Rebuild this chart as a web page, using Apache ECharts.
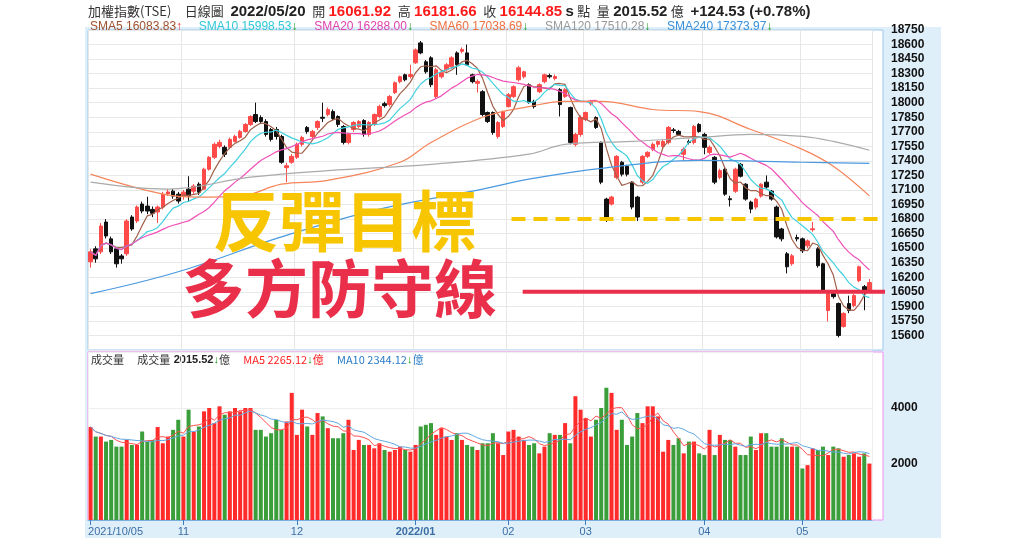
<!DOCTYPE html>
<html><head><meta charset="utf-8">
<script src="https://cdn.jsdelivr.net/npm/echarts@6/dist/echarts.min.js"></script>
<style>html,body{margin:0;padding:0;background:#fff}#c{width:1024px;height:538px}</style>
</head><body><div id="c"></div>
<script>
// OHLC [open, close, low, high]
const ohlc = [
[16360,16462,16300,16490],[16493,16390,16350,16520],[16462,16729,16440,16760],[16770,16626,16600,16800],[16596,16462,16440,16620],[16493,16339,16300,16510],[16420,16390,16340,16440],[16442,16780,16420,16800],[16821,16698,16680,16840],[16780,16924,16760,16940],[16955,16883,16860,16980],[16934,16883,16850,17030],[16900,16860,16820,16930],[16873,16924,16760,16940],[16924,17057,16900,17080],[17060,17080,17040,17110],[17088,17037,17010,17110],[17057,16986,16960,17080],
[17037,17078,17000,17100],[17109,17037,16980,17242],[17088,17140,17060,17160],[17160,17078,17050,17180],[17109,17314,17100,17330],[17314,17437,17300,17450],[17437,17571,17420,17590],[17550,17591,17530,17620],[17540,17468,17440,17560],[17540,17622,17520,17640],[17601,17652,17590,17670],[17642,17704,17630,17720],[17704,17776,17690,17790],[17776,17858,17760,17870],[17878,17806,17790,18001],[17847,17806,17780,17870],[17806,17673,17650,17830],[17724,17622,17600,17740],[17724,17652,17620,17750],[17652,17386,17370,17670],[17330,17350,17181,17380],[17386,17447,17370,17470],
[17437,17571,17420,17590],[17571,17642,17550,17660],[17745,17704,17680,17760],[17652,17704,17630,17720],[17745,17806,17720,17820],[17850,17840,17800,18001],[17878,17929,17860,17950],[17909,17837,17820,17930],[17858,17776,17750,17870],[17755,17591,17570,17770],[17591,17673,17570,17690],[17724,17796,17700,17810],[17755,17806,17740,17820],[17817,17673,17650,17830],[17673,17796,17650,17810],[17776,17878,17760,17890],[17858,17960,17840,17980],[17990,17970,17950,18010],[17981,18063,17960,18080],[18104,18206,18090,18220],[18217,18268,18200,18280],[18288,18237,18220,18300],[18270,18290,18250,18391],
[18412,18545,18400,18560],[18617,18514,18500,18637],[18422,18319,18300,18440],[18463,18186,18160,18480],[18063,18340,18040,18360],[18268,18309,18250,18330],[18340,18391,18320,18410],[18370,18463,18350,18480],[18514,18391,18288,18530],[18530,18550,18510,18570],[18514,18391,18380,18600],[18288,18217,18200,18300],[18200,18220,18104,18240],[18114,17878,17860,18130],[17899,17806,17790,17910],[17899,17693,17670,17910],[17652,17796,17630,17810],[17755,17909,17740,17920],
[17960,18083,17950,18100],[18063,18165,18050,18180],[18237,18360,18220,18380],[18268,18319,18250,18330],[18186,18001,17990,18200],[18011,17960,17940,18030],[18114,18186,18100,18200],[18217,18288,18200,18300],[18280,18268,18250,18300],[18250,18270,18230,18290],[18135,17981,17858,18150],[18063,18135,18050,18150],[17950,17591,17570,17960],[17571,17673,17550,17690],[17673,17850,17650,17870],
[17827,17899,17810,17910],[17990,18000,17970,18030],[17847,17745,17730,17860],[17591,17181,17160,17600],[17006,16821,16770,17020],[16955,17027,16940,17040],[17230,17447,17210,17460],[17386,17263,17240,17400],[17345,17263,17240,17360],[17181,16924,16900,17190],[17027,16821,16780,17040],[17181,17447,17160,17460],[17447,17488,17430,17500],[17519,17571,17500,17590],[17571,17600,17540,17610],[17550,17600,17530,17620],[17591,17745,17570,17760],[17720,17714,17690,17740],[17704,17673,17660,17720],[17468,17519,17400,17540],[17600,17591,17570,17620],[17591,17755,17570,17770],[17776,17704,17690,17790],
[17673,17540,17468,17690],[17488,17540,17470,17560],[17437,17181,17160,17450],[17230,17300,17210,17320],[17314,17057,17040,17330],[17010,17000,16930,17040],[17088,17314,17070,17330],[17365,17242,17230,17380],[17160,17006,16990,17170],[16975,16903,16860,16990],[16924,17006,16900,17020],[17037,17160,17020,17170],[17181,17130,17110,17250],[17088,17006,16990,17100],[16924,16616,16600,16940],[16698,16596,16570,16710],[16442,16308,16240,16460],[16339,16421,16320,16440],[16610,16596,16570,16640],
[16596,16473,16450,16610],[16524,16575,16500,16590],[16690,16700,16670,16770],[16493,16319,16300,16510],[16339,16062,16040,16350],[15857,16031,15745,16050],[16031,16000,15980,16050],[15929,15600,15580,15940],[15693,15827,15680,15840],[15929,15857,15830,16010],[15908,16011,15890,16030],[16165,16308,16150,16320],[16103,16062,15860,16120],[16062,16145,16040,16182]
];
const volumes = [
3320,2980,2980,2800,2860,2620,2620,2860,2680,2680,3160,2800,2860,3320,2740,2980,3220,3580,
2980,3940,3160,3340,3880,4000,3460,4060,3760,3880,4000,3880,4000,4000,3220,3220,2980,3100,3580,3220,3520,4540,
3040,3940,3340,3040,3820,3700,3280,2920,2920,3100,3580,2500,2860,2680,2680,2560,2740,2500,2440,2500,2620,2500,2440,
2680,3340,3400,3460,3040,3280,2980,2860,3100,2860,2680,2620,2500,2740,2740,3100,2740,2320,
3160,3220,2980,2860,2680,2740,2380,2620,3100,3040,3040,3460,2740,4420,3940,
3640,2980,3580,4000,4720,4540,3220,3580,2680,2980,3820,3460,4060,4060,3700,2440,2860,2680,2920,2380,2800,2800,2380,
2320,3220,2320,3040,2860,2860,2620,2320,2320,2980,2500,3100,3100,2620,2620,2920,2620,2620,2620,
1840,1960,2560,2500,2620,2320,2620,2560,2260,2320,2380,2260,2380,2015
];
// long moving averages as [index, value]
const sma60 = [[0,17263],[14,17057],[21,17027],[29,17037],[37,17160],[46,17200],[60,17386],[66,17590],[76,17850],[85,17960],[92,18014],[99,18014],[109,17930],[118,17909],[128,17724],[138,17519],[144,17345],[151,17039]];
const sma120 = [[0,17181],[15,17110],[31,17232],[46,17300],[66,17365],[85,17470],[92,17571],[105,17601],[118,17642],[128,17673],[138,17652],[144,17601],[151,17510]];
const sma240 = [[0,16031],[17,16257],[37,16616],[56,16903],[76,17109],[85,17212],[99,17324],[118,17406],[138,17386],[151,17374]];
const monthIdx = [0,18,40,63,81,96,119,138];
const monthLabels = ['2021/10/05','11','12','2022/01','02','03','04','05'];
const targetLevel = 16800, defenseLevel = 16050;
const lineStartIdx = [82, 83];

const cats = ohlc.map((d,i)=>String(i));
const closes = ohlc.map(d=>d[1]);
function ma(arr,n){return arr.map((v,i)=>{const s=arr.slice(Math.max(0,i-n+1),i+1);return +(s.reduce((a,b)=>a+b,0)/s.length).toFixed(2);});}
const up = ohlc.map(d=>d[1]>=d[0]);
const RED='#ff2a2a', GRN='#3a9e3a';
const chart = echarts.init(document.getElementById('c'));
const CJK='"Noto Sans CJK TC","Liberation Sans",sans-serif';
const monthSet = new Set(monthIdx);
const baseGraphic = [
    {type:'rect',shape:{x:85,y:27,width:856,height:511},style:{fill:'#dfeffa'},z:-10},
    {type:'rect',shape:{x:88,y:30,width:795,height:320},style:{fill:'#fff',stroke:'#9cc8ea',lineWidth:1},z:-9},
    {type:'rect',shape:{x:88,y:352,width:795,height:168},style:{fill:'#fff',stroke:'#f090f0',lineWidth:1},z:-9},
    {type:'text',left:88,top:4,style:{text:'{g|加權指數(TSE)}    {g|日線圖}  {b|2022/05/20}  {g|開} {r|16061.92}  {g|高} {r|16181.66}  {g|收} {r|16144.85} {b|s} {g|點}  {g|量} {b|2015.52} {g|億}  {b|+124.53 (+0.78%)}',
      rich:{g:{fontSize:13,fill:'#333',fontFamily:CJK},b:{fontSize:15,fontWeight:'bold',fill:'#222',fontFamily:'Liberation Sans'},r:{fontSize:15,fontWeight:'bold',fill:'#ff1a1a',fontFamily:'Liberation Sans'}}}},
    {type:'text',left:90,top:21,style:{text:'{a|SMA5 16083.83}{u|↑}     {c|SMA10 15998.53}{d|↓}     {p|SMA20 16288.00}{d|↓}     {o|SMA60 17038.69}{d|↓}     {s|SMA120 17510.28}{d|↓}     {l|SMA240 17373.97}{d|↓}',
      rich:{a:{fontSize:12,fill:'#a0502d'},c:{fontSize:12,fill:'#30c8d8'},p:{fontSize:12,fill:'#e040b0'},o:{fontSize:12,fill:'#f07040'},s:{fontSize:12,fill:'#999'},l:{fontSize:12,fill:'#3a90d8'},u:{fontSize:12,fontWeight:'bold',fill:'#ff2020'},d:{fontSize:12,fontWeight:'bold',fill:'#1a9a1a'}}}},
    {type:'text',left:91,top:354,style:{text:'{g|成交量}    {g|成交量} {b|2015.52}{d|↓}{g|億}    {r|MA5 2265.12}{d|↓}{r|億}    {l|MA10 2344.12}{d|↓}{l|億}',
      rich:{g:{fontSize:11,fill:'#333',fontFamily:CJK},b:{fontSize:11,fontWeight:'bold',fill:'#222'},r:{fontSize:11,fill:'#ff2020',fontFamily:CJK},l:{fontSize:11,fill:'#2a7cc8',fontFamily:CJK},d:{fontSize:11,fontWeight:'bold',fill:'#1a9a1a'}}}},
    {type:'text',left:213,top:188,z:50,style:{text:'反彈目標',fontSize:66,fontWeight:'bold',fill:'#f7c600',fontFamily:CJK}},
    {type:'text',left:182,top:257,z:50,style:{text:'多方防守線',fontSize:63,fontWeight:'bold',fill:'#ea2f4a',fontFamily:CJK}}
];
chart.setOption({
  animation:false,
  backgroundColor:'#fff',
  graphic:baseGraphic,
  grid:[{left:88,width:784,top:30,height:320},{left:88,width:784,top:352,height:168}],
  xAxis:[
    {type:'category',data:cats,gridIndex:0,boundaryGap:true,axisLine:{show:false},axisTick:{show:false},axisLabel:{show:false},
     splitLine:{show:true,interval:(i)=>monthSet.has(i),lineStyle:{color:'#e6e6e6'}}},
    {type:'category',data:cats,gridIndex:1,boundaryGap:true,axisLine:{show:true,lineStyle:{color:'#7ab0e0'}},
     axisTick:{show:true,alignWithLabel:true,interval:(i)=>monthSet.has(i),lineStyle:{color:'#3a7cc0'}},
     axisLabel:{interval:(i)=>monthSet.has(i),margin:6,
       formatter:(v)=>{const k=monthIdx.indexOf(+v);if(k<0)return '';if(k===0)return '{f|'+monthLabels[k]+'}';if(k===3)return '{b|'+monthLabels[k]+'}';return '{n|'+monthLabels[k]+'}';},
       rich:{f:{color:'#3a6ea5',fontSize:11,padding:[0,0,0,50]},b:{color:'#3a6ea5',fontSize:11,fontWeight:'bold'},n:{color:'#3a6ea5',fontSize:11}}},
     splitLine:{show:true,interval:(i)=>monthSet.has(i),lineStyle:{color:'#eeeeee'}}}
  ],
  yAxis:[
    {type:'value',gridIndex:0,position:'right',min:15450,max:18750,interval:150,offset:11,
     axisLine:{show:false},axisTick:{show:false},
     axisLabel:{color:'#111',fontSize:12,fontWeight:'bold',margin:8,formatter:v=>v<15600?'':v},
     splitLine:{lineStyle:{color:'#e8e8e8'}}},
    {type:'value',gridIndex:1,position:'right',min:0,max:6000,interval:2000,offset:11,
     axisLine:{show:false},axisTick:{show:false},
     axisLabel:{color:'#111',fontSize:12,fontWeight:'bold',margin:8,formatter:v=>(v===2000||v===4000)?v:''},
     splitLine:{lineStyle:{color:'#eeeeee'}}}
  ],
  series:[
    {type:'candlestick',xAxisIndex:0,yAxisIndex:0,data:ohlc,barWidth:4,
     itemStyle:{color:'#ff4a4a',color0:'#111',borderColor:'#ff4a4a',borderColor0:'#111',borderWidth:1}},
    {type:'line',data:ma(closes,5),xAxisIndex:0,yAxisIndex:0,symbol:'none',lineStyle:{color:'#a0604a',width:1.2}},
    {type:'line',data:ma(closes,10),xAxisIndex:0,yAxisIndex:0,symbol:'none',lineStyle:{color:'#40d0e0',width:1.2}},
    {type:'line',data:ma(closes,20),xAxisIndex:0,yAxisIndex:0,symbol:'none',lineStyle:{color:'#f050b8',width:1.2}},
    {type:'line',data:sma60,xAxisIndex:0,yAxisIndex:0,symbol:'none',smooth:0.4,lineStyle:{color:'#f5855a',width:1.2}},
    {type:'line',data:sma120,xAxisIndex:0,yAxisIndex:0,symbol:'none',smooth:0.4,lineStyle:{color:'#aaaaaa',width:1.2}},
    {type:'line',data:sma240,xAxisIndex:0,yAxisIndex:0,symbol:'none',smooth:0.4,lineStyle:{color:'#4a9ae0',width:1.2}},
    {type:'bar',xAxisIndex:1,yAxisIndex:1,barWidth:4,data:volumes.map((v,i)=>({value:v,itemStyle:{color:up[i]?RED:GRN}}))},
    {type:'line',data:ma(volumes,5),xAxisIndex:1,yAxisIndex:1,symbol:'none',lineStyle:{color:'#ff5050',width:1}},
    {type:'line',data:ma(volumes,10),xAxisIndex:1,yAxisIndex:1,symbol:'none',lineStyle:{color:'#60a8e0',width:1}}
  ]
});
const yT = chart.convertToPixel({yAxisIndex:0}, targetLevel);
const yD = chart.convertToPixel({yAxisIndex:0}, defenseLevel);
const xT = chart.convertToPixel({xAxisIndex:0}, String(lineStartIdx[0]));
const xD = chart.convertToPixel({xAxisIndex:0}, String(lineStartIdx[1]));
chart.setOption({graphic:baseGraphic.concat([
  {type:'line',z:40,shape:{x1:xT-2,y1:yT,x2:878,y2:yT},style:{stroke:'#f7c600',lineWidth:4,lineDash:[14,8]}},
  {type:'line',z:40,shape:{x1:xD+4,y1:yD,x2:885,y2:yD},style:{stroke:'#ea2f4a',lineWidth:4}}
])});
</script></body></html>
